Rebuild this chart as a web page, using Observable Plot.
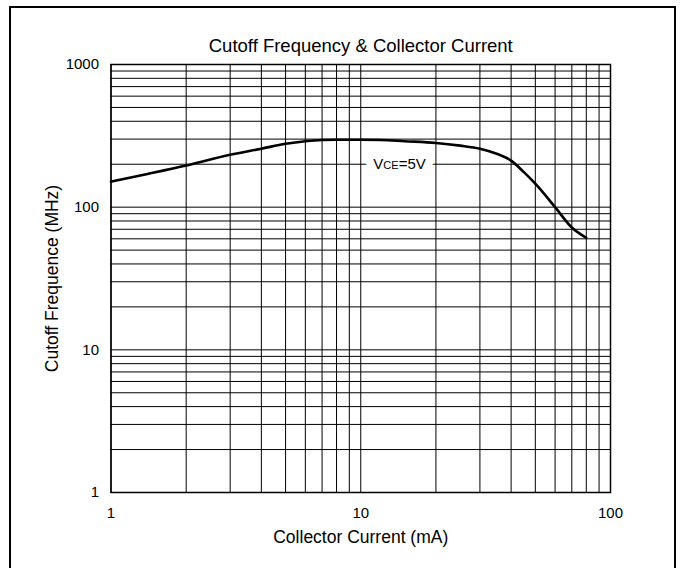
<!DOCTYPE html>
<html>
<head>
<meta charset="utf-8">
<script src="https://cdn.jsdelivr.net/npm/d3@7"></script>
<script src="https://cdn.jsdelivr.net/npm/@observablehq/plot@0.6"></script>
<style>
  html, body { margin: 0; padding: 0; background: #fff; overflow: hidden; }
  #wrap { position: relative; width: 682px; height: 568px; }
  #border { position: absolute; left: 9px; top: 6px; width: 663px; height: 600px;
            border: 2px solid #000; border-bottom: none; box-sizing: content-box; }
  #chart { position: absolute; left: 0; top: 0; }
  svg { font-family: "Liberation Sans", Arial, sans-serif; }
</style>
</head>
<body>
<div id="wrap"><div id="border"></div><div id="chart"></div></div>
<script>
// Data
const current = [1, 1.4, 2, 3, 4, 5, 6, 7, 8, 10, 12, 15, 20, 25, 30, 35, 40, 45, 50, 60, 70, 80]; // mA
const cutoff  = [151, 171, 196, 233, 257, 278, 290, 296, 297, 297, 296, 290, 282, 270, 257, 237, 212, 176, 146, 100, 72, 61]; // MHz

const xGrid = [1,2,3,4,5,6,7,8,9,10,20,30,40,50,60,70,80,90,100];
const yGrid = [1,2,3,4,5,6,7,8,9,10,20,30,40,50,60,70,80,90,100,200,300,400,500,600,700,800,900,1000];
const xTicks = [1, 10, 100];
const yTicks = [1, 10, 100, 1000];

const title = "Cutoff Frequency & Collector Current";
const xLabel = "Collector Current (mA)";
const yLabel = "Cutoff Frequence (MHz)";
const curveLabel = [{x: 14.3, y: 200, text: "VCE=5V"}];

const data = current.map((c, i) => ({x: c, y: cutoff[i]}));

const chart = Plot.plot({
  width: 682,
  height: 568,
  marginLeft: 110.5,
  marginRight: 72,
  marginTop: 64,
  marginBottom: 76,
  style: {fontFamily: "Liberation Sans, Arial, sans-serif", fontSize: "15px", color: "#000", background: "transparent"},
  x: {type: "log", domain: [1, 100]},
  y: {type: "log", domain: [1, 1000]},
  marks: [
    Plot.ruleX(xGrid, {stroke: "#000", strokeWidth: 1}),
    Plot.ruleY(yGrid, {stroke: "#000", strokeWidth: 1}),
    Plot.frame({stroke: "#000", strokeWidth: 1.5}),
    Plot.line(data, {x: "x", y: "y", stroke: "#000", strokeWidth: 2.6, curve: "monotone-x"}),
    // white halo behind the curve label
    Plot.text(curveLabel, {x: "x", y: "y", text: "text", fill: "white", stroke: "white", strokeWidth: 17,
                           fontSize: 15, textAnchor: "middle"}),
    Plot.text(curveLabel, {x: "x", y: "y", text: "text", fill: "#000", fontSize: 15, textAnchor: "middle"}),
    Plot.axisX(xTicks, {tickSize: 0, tickPadding: 15, tickFormat: d => String(d), fontSize: 15,
                        label: xLabel, labelAnchor: "center", labelOffset: 50, labelArrow: "none"}),
    Plot.axisY(yTicks, {tickSize: 0, tickPadding: 12, tickFormat: d => String(d), fontSize: 15,
                        label: yLabel, labelAnchor: "center", labelOffset: 65, labelArrow: "none"}),
    Plot.text([title], {frameAnchor: "top", lineAnchor: "middle", dy: -18, text: d => d, fontSize: 18.5, fill: "#000"})
  ]
});

document.getElementById("chart").appendChild(chart);

// Make "CE" in the curve label smaller
d3.select(chart).selectAll("text").each(function() {
  const t = d3.select(this);
  if (this.textContent === curveLabel[0].text && this.childElementCount === 0) {
    const s = this.textContent;
    t.text(null);
    t.append("tspan").text(s.slice(0, 1));
    t.append("tspan").attr("font-size", 11).text(s.slice(1, 3));
    t.append("tspan").text(s.slice(3));
  }
});
// Larger axis labels
d3.select(chart).selectAll("g[aria-label='x-axis label'] text, g[aria-label='y-axis label'] text")
  .attr("font-size", 17.5);
</script>
</body>
</html>
